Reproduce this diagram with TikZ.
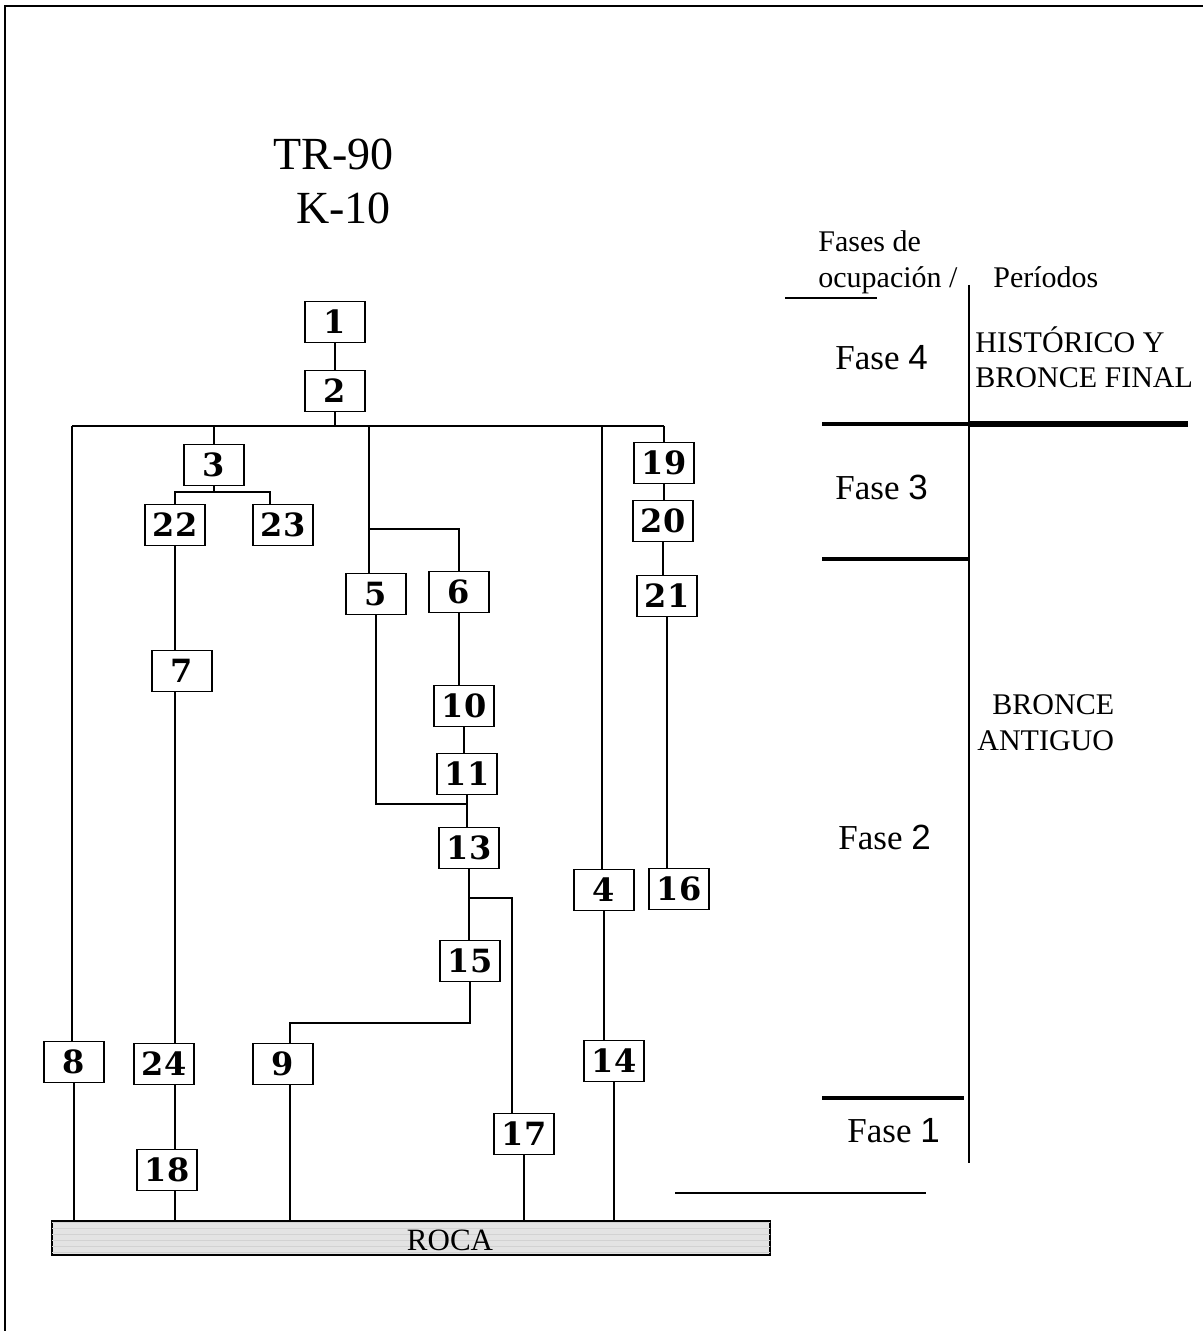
\documentclass[tikz,border=0pt]{standalone}
\usepackage{fontspec}
\setmainfont{Liberation Serif}
\newfontfamily\arialfont{Liberation Sans}
\newfontfamily\uefont{DejaVu Serif}
\usetikzlibrary{patterns}

\begin{document}
\begin{tikzpicture}[
    x=0.5pt, y=-0.5pt,
    ue/.style={rectangle, draw, line width=0.9pt, fill=white, minimum width=30pt, minimum height=20.5pt, inner sep=0pt, font=\uefont\bfseries\fontsize{16}{17}\selectfont},
    roca/.style={rectangle, draw, line width=1pt, fill=gray!22, postaction={pattern=horizontal lines, pattern color=gray!35}, minimum width=359pt, minimum height=17pt, inner sep=0pt},
    link/.style={line width=0.8pt},
    limite/.style={line width=2pt},
    texto/.style={anchor=base west, inner sep=0pt, font=\fontsize{15}{18}\selectfont},
    fase/.style={anchor=base west, inner sep=0pt, font=\fontsize{17.5}{20}\selectfont},
    titulo/.style={anchor=base west, inner sep=0pt, font=\fontsize{23}{27}\selectfont}
  ]
    \useasboundingbox (0,0) rectangle (1203,1331);
    \draw[line width=1pt] (5,1331) -- (5,6) -- (1203,6);

    % Titulo
    \node[titulo] (tr) at (273,170) {TR-90};
    \node[titulo] (k10) at (296,224) {K-10};

    % Unidades
    \node[ue] (n1) at (335,322) {1};
    \node[ue] (n2) at (335,391) {2};
    \node[ue] (n3) at (214,465) {3};
    \node[ue] (n22) at (175,525) {22};
    \node[ue] (n23) at (283,525) {23};
    \node[ue] (n5) at (376,594) {5};
    \node[ue] (n6) at (459,592) {6};
    \node[ue] (n7) at (182,671) {7};
    \node[ue] (n10) at (464,706) {10};
    \node[ue] (n11) at (467,774) {11};
    \node[ue] (n13) at (469,848) {13};
    \node[ue] (n15) at (470,961) {15};
    \node[ue] (n19) at (664,463) {19};
    \node[ue] (n20) at (663,521) {20};
    \node[ue] (n21) at (667,596) {21};
    \node[ue] (n4) at (604,890) {4};
    \node[ue] (n16) at (679,889) {16};
    \node[ue] (n8) at (74,1062) {8};
    \node[ue] (n24) at (164,1064) {24};
    \node[ue] (n9) at (283,1064) {9};
    \node[ue] (n14) at (614,1061) {14};
    \node[ue] (n17) at (524,1134) {17};
    \node[ue] (n18) at (167,1170) {18};
    \node[roca] (roca) at (411,1238) {};
    \node[texto, anchor=center, font=\fontsize{15.5}{17}\selectfont] (rocatxt) at (450,1240) {ROCA};

    % Puntos de union
    \coordinate (busL) at (72,426);
    \coordinate (busR) at (664,426);
    \coordinate (c5) at (369,426);
    \coordinate (c56) at (369,529);
    \coordinate (c4) at (602,426);
    \coordinate (k3) at (214,492);
    \coordinate (k23) at (270,492);
    \coordinate (j11) at (467,804);
    \coordinate (k17) at (512,898);
    \coordinate (k9) at (290,1023);

    % Conexiones
    \draw[link] (busL) -- (busR);
    \draw[link] (n1) -- (n2);
    \draw[link] (n2) -- (n2 |- busL);
    \draw[link] (busL) -- (busL |- n8.north);
    \draw[link] (n8.south) -- (n8.south |- roca.north);
    \draw[link] (n3 |- busL) -- (n3);
    \draw[link] (n3) -- (k3);
    \draw[link] (n22.north) |- (k23) -- (k23 |- n23.north);
    \draw[link] (n22.south) -- (n22.south |- n7.north);
    \draw[link] (n22 |- n7.south) -- (n22 |- n24.north);
    \draw[link] (n22 |- n24.south) -- (n22 |- n18.north);
    \draw[link] (n22 |- n18.south) -- (n22 |- roca.north);
    \draw[link] (c5) -- (c5 |- n5.north);
    \draw[link] (c56) -| (n6.north);
    \draw[link] (n5.south) |- (j11);
    \draw[link] (n6.south) -- (n6.south |- n10.north);
    \draw[link] (n10.south) -- (n10.south |- n11.north);
    \draw[link] (n11.south) -- (n11.south |- n13.north);
    \draw[link] (n13.south) -- (n13.south |- n15.north);
    \draw[link] (n13.south |- k17) -- (k17) -- (k17 |- n17.north);
    \draw[link] (n15.south) |- (k9) -- (k9 |- n9.north);
    \draw[link] (k9 |- n9.south) -- (k9 |- roca.north);
    \draw[link] (n17.south) -- (n17.south |- roca.north);
    \draw[link] (c4) -- (c4 |- n4.north);
    \draw[link] (n4.south) -- (n4.south |- n14.north);
    \draw[link] (n14.south) -- (n14.south |- roca.north);
    \draw[link] (busR) -- (busR |- n19.north);
    \draw[link] (n19.south) -- (n19.south |- n20.north);
    \draw[link] (n20.south) -- (n20.south |- n21.north);
    \draw[link] (n21.south) -- (n21.south |- n16.north);

    % Fases y periodos
    \node[texto] (fases1) at (818,252) {Fases de};
    \node[texto] (fases2) at (818,288) {ocupación /};
    \node[texto] (periodos) at (993,288) {Períodos};
    \node[fase] (f4) at (835,370) {Fase {\arialfont 4}};
    \node[texto] (p4a) at (975,353) {HISTÓRICO Y};
    \node[texto] (p4b) at (975,388) {BRONCE FINAL};
    \node[fase] (f3) at (835,499) {Fase {\arialfont 3}};
    \node[texto] (p2a) at (992,714) {BRONCE};
    \node[texto] (p2b) at (977,750) {ANTIGUO};
    \node[fase] (f2) at (838,849) {Fase {\arialfont 2}};
    \node[fase] (f1) at (847,1142) {Fase {\arialfont 1}};

    \draw[line width=0.8pt] (969,285) -- (969,1163);
    \draw[line width=0.8pt] (785,298) -- (877,298);
    \draw[limite] (822,424) -- (969,424);
    \draw[line width=2.6pt] (969,424) -- (1188,424);
    \draw[limite] (822,559) -- (970,559);
    \draw[limite] (822,1098) -- (964,1098);
    \draw[line width=0.8pt] (675,1193) -- (926,1193);
  \end{tikzpicture}
\end{document}
